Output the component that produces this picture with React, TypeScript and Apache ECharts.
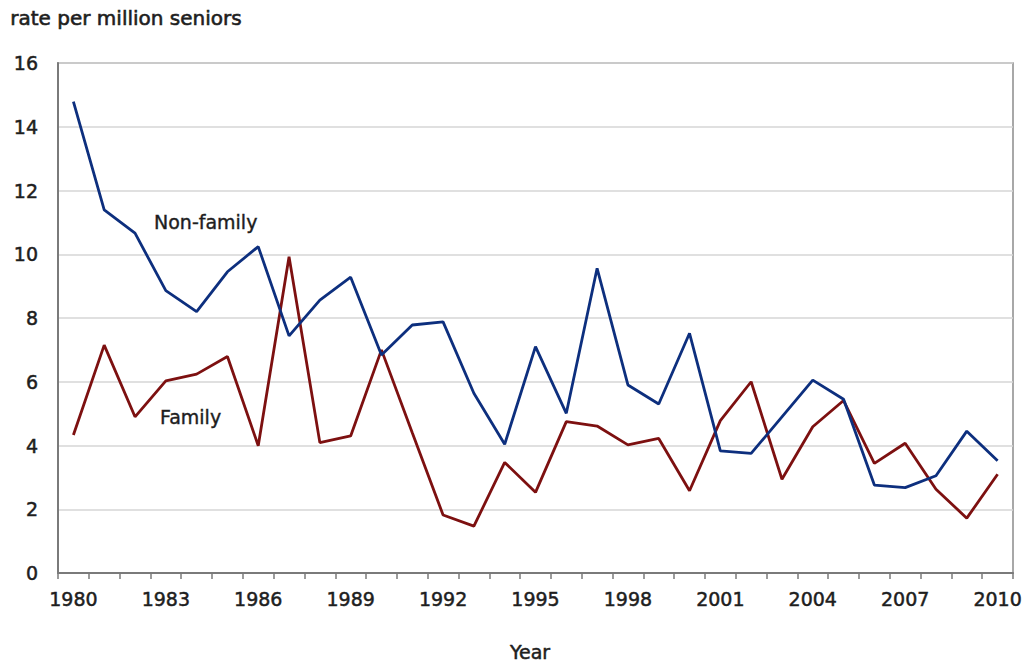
import React, { useEffect, useRef } from "react";
import * as echarts from "echarts";

const years: string[] = [
  "1980","1981","1982","1983","1984","1985","1986","1987","1988","1989",
  "1990","1991","1992","1993","1994","1995","1996","1997","1998","1999",
  "2000","2001","2002","2003","2004","2005","2006","2007","2008","2009","2010",
];

const nonFamily: number[] = [
  14.79, 11.39, 10.66, 8.86, 8.2, 9.45, 10.24, 7.44, 8.56, 9.28,
  6.84, 7.78, 7.88, 5.64, 4.04, 7.1, 5.01, 9.56, 5.9, 5.3,
  7.52, 3.83, 3.75, 4.9, 6.05, 5.45, 2.76, 2.68, 3.05, 4.45, 3.52,
];

const family: number[] = [
  4.33, 7.15, 4.9, 6.03, 6.24, 6.79, 3.99, 9.92, 4.09, 4.3,
  7.0, 4.4, 1.82, 1.47, 3.47, 2.53, 4.75, 4.61, 4.02, 4.22,
  2.58, 4.78, 6.0, 2.94, 4.59, 5.41, 3.44, 4.07, 2.63, 1.72, 3.1,
];

const FONT = "'DejaVu Sans', Verdana, sans-serif";
const TXT = "#1e1e1e";
const EMB = { textBorderColor: TXT, textBorderWidth: 0.5 };

export default function App() {
  const ref = useRef<HTMLDivElement>(null);
  useEffect(() => {
    if (!ref.current) return;
    const chart = echarts.init(ref.current, null, { renderer: "svg" });
    chart.setOption({
      animation: false,
      backgroundColor: "#ffffff",
      grid: {
        left: 58,
        right: 13,
        top: 63,
        bottom: 89,
        show: true,
        borderColor: "#8c8c8c",
        borderWidth: 1.5,
      },
      xAxis: {
        type: "category",
        data: years,
        boundaryGap: true,
        axisLine: { show: true, lineStyle: { color: "#7a7a7a", width: 2 } },
        axisTick: {
          show: true,
          interval: 0,
          alignWithLabel: false,
          length: 6,
          lineStyle: { color: "#7a7a7a", width: 1.5 },
        },
        axisLabel: {
          interval: 2,
          margin: 16,
          fontFamily: FONT,
          fontSize: 19,
          color: TXT,
          ...EMB,
        },
        splitLine: { show: false },
      },
      yAxis: {
        type: "value",
        min: 0,
        max: 16,
        interval: 2,
        axisLine: { show: true, lineStyle: { color: "#7a7a7a", width: 2 } },
        axisTick: { show: false },
        axisLabel: {
          margin: 20,
          fontFamily: FONT,
          fontSize: 19,
          color: TXT,
          ...EMB,
        },
        splitLine: { show: true, lineStyle: { color: "#d6d6d6", width: 1.5 } },
      },
      graphic: [
        {
          type: "text",
          left: 10,
          top: 8,
          style: {
            text: "rate per million seniors",
            fontFamily: FONT,
            fontSize: 20,
            fill: TXT,
            stroke: TXT,
            lineWidth: 0.6,
          },
        },
        {
          type: "text",
          x: 530,
          y: 652,
          style: {
            text: "Year",
            fontFamily: FONT,
            fontSize: 19,
            fill: TXT,
            stroke: TXT,
            lineWidth: 0.5,
            align: "center",
            verticalAlign: "middle",
          },
        },
        {
          type: "text",
          x: 154,
          y: 222,
          style: {
            text: "Non-family",
            fontFamily: FONT,
            fontSize: 19,
            fill: TXT,
            stroke: TXT,
            lineWidth: 0.4,
            align: "left",
            verticalAlign: "middle",
          },
        },
        {
          type: "text",
          x: 160,
          y: 417,
          style: {
            text: "Family",
            fontFamily: FONT,
            fontSize: 19,
            fill: TXT,
            stroke: TXT,
            lineWidth: 0.4,
            align: "left",
            verticalAlign: "middle",
          },
        },
      ],
      series: [
        {
          name: "Non-family",
          type: "line",
          data: nonFamily,
          symbol: "none",
          lineStyle: { color: "#0d2f7e", width: 2.8 },
          itemStyle: { color: "#0d2f7e" },
          z: 3,
        },
        {
          name: "Family",
          type: "line",
          data: family,
          symbol: "none",
          lineStyle: { color: "#7d1010", width: 2.8 },
          itemStyle: { color: "#7d1010" },
          z: 2,
        },
      ],
    });
    return () => chart.dispose();
  }, []);
  return (
    <div
      ref={ref}
      style={{ position: "fixed", left: 0, top: 0, width: 1026, height: 662 }}
    />
  );
}
